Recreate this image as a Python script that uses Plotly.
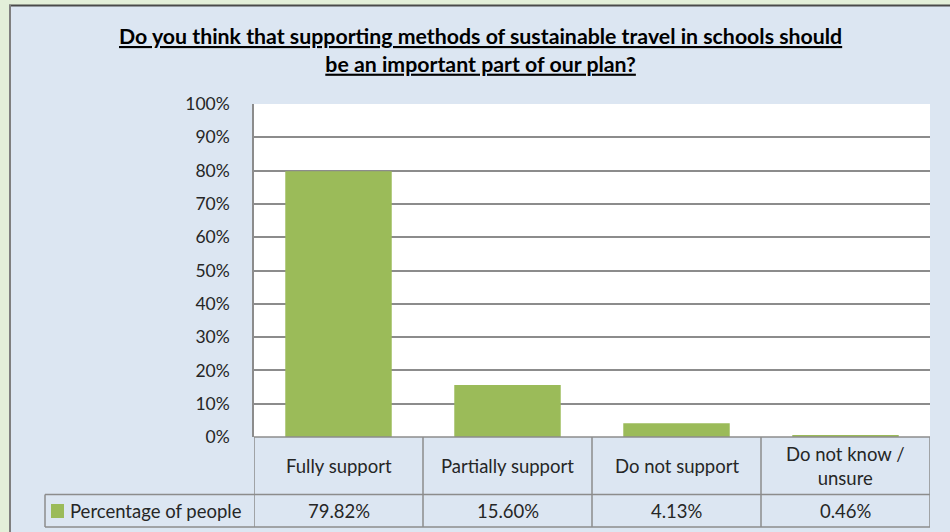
import plotly.graph_objects as go

# Survey results
categories = ["Fully support", "Partially support", "Do not support", "Do not know /<br>unsure"]
percentages = [79.82, 15.60, 4.13, 0.46]
series_name = "Percentage of people"
y_ticks = [0, 10, 20, 30, 40, 50, 60, 70, 80, 90, 100]
title_lines = [
    "Do you think that supporting methods of sustainable travel in schools should",
    "be an important part of our plan?",
]

W, H = 950, 532
L, R, T, B = 254, 20, 104, 95  # plot area: x 254..930, y 104..437
PW, PH = W - L - R, H - T - B

BAR = "#9BBB59"
GRID = "#8C8C8C"
CHART_BG = "#DCE6F2"
OUTER_BG = "#E3EFD9"
TEXT = "#262626"
FONT = "Lato"


def px_x(x):
    return (x - L) / PW


def px_y(y):
    return (H - B - y) / PH


fig = go.Figure(
    go.Bar(
        x=list(range(len(categories))),
        y=percentages,
        marker=dict(color=BAR, line=dict(width=0)),
        width=0.63,
        name=series_name,
        hoverinfo="skip",
    )
)

shapes = []
# outer sheet strips and chart frame
shapes.append(dict(type="rect", xref="paper", yref="paper", x0=px_x(-5), x1=px_x(10),
                   y0=px_y(H + 5), y1=px_y(-5), fillcolor=OUTER_BG, line=dict(width=0), layer="below"))
shapes.append(dict(type="rect", xref="paper", yref="paper", x0=px_x(-5), x1=px_x(W + 5),
                   y0=px_y(5), y1=px_y(-5), fillcolor=OUTER_BG, line=dict(width=0), layer="below"))
shapes.append(dict(type="line", xref="paper", yref="paper", x0=px_x(9), x1=px_x(W + 5),
                   y0=px_y(5.5), y1=px_y(5.5), line=dict(color="#4A4A4A", width=2)))
shapes.append(dict(type="line", xref="paper", yref="paper", x0=px_x(10), x1=px_x(10),
                   y0=px_y(5), y1=px_y(H + 5), line=dict(color="#7F7F7F", width=2)))

# data table grid below the category axis
row_mid = px_y(494.5)
table_bottom = px_y(527)
n = len(categories)
for i in range(n + 1):
    shapes.append(dict(type="line", xref="x", yref="paper", x0=i - 0.5, x1=i - 0.5,
                       y0=0, y1=table_bottom, line=dict(color=GRID, width=1.5)))
shapes.append(dict(type="line", xref="paper", yref="paper", x0=px_x(45), x1=1,
                   y0=row_mid, y1=row_mid, line=dict(color=GRID, width=1.5)))
shapes.append(dict(type="line", xref="paper", yref="paper", x0=px_x(45), x1=1,
                   y0=table_bottom, y1=table_bottom, line=dict(color=GRID, width=1.5)))
shapes.append(dict(type="line", xref="paper", yref="paper", x0=px_x(45), x1=px_x(45),
                   y0=row_mid, y1=table_bottom, line=dict(color=GRID, width=1.5)))
shapes.append(dict(type="line", xref="paper", yref="paper", x0=0, x1=1,
                   y0=0, y1=0, line=dict(color=GRID, width=1.5)))
# legend key
shapes.append(dict(type="rect", xref="paper", yref="paper", x0=px_x(51), x1=px_x(64),
                   y0=px_y(518), y1=px_y(504), fillcolor=BAR, line=dict(width=0)))

annotations = []
annotations.append(dict(
    xref="paper", yref="paper", x=px_x(480), y=px_y(50),
    text="<b><u>" + title_lines[0] + "</u></b><br><b><u>" + title_lines[1] + "</u></b>",
    showarrow=False, xanchor="center", yanchor="middle", align="center",
    font=dict(family=FONT, size=21.3, color="#000000"),
))
for i, (cat, val) in enumerate(zip(categories, percentages)):
    annotations.append(dict(xref="x", yref="paper", x=i, y=px_y(466), text=cat,
                            showarrow=False, xanchor="center", yanchor="middle", align="center",
                            font=dict(family=FONT, size=18.5, color=TEXT)))
    annotations.append(dict(xref="x", yref="paper", x=i, y=px_y(511), text=f"{val:.2f}%",
                            showarrow=False, xanchor="center", yanchor="middle",
                            font=dict(family=FONT, size=18.5, color=TEXT)))
annotations.append(dict(xref="paper", yref="paper", x=px_x(68), y=px_y(511), text=series_name,
                        showarrow=False, xanchor="left", yanchor="middle",
                        font=dict(family=FONT, size=18.5, color=TEXT)))

fig.update_layout(
    width=W, height=H,
    margin=dict(l=L, r=R, t=T, b=B, pad=0),
    paper_bgcolor=CHART_BG,
    plot_bgcolor="#FFFFFF",
    showlegend=False,
    bargap=0.37,
    shapes=shapes,
    annotations=annotations,
    xaxis=dict(range=[-0.5, n - 0.5], showticklabels=False, showgrid=False,
               zeroline=False, showline=False, ticks="", fixedrange=True),
    yaxis=dict(range=[0, 100], tickvals=y_ticks, ticktext=[f"{t}%" for t in y_ticks],
               showgrid=True, gridcolor=GRID, gridwidth=1.5, zeroline=False,
               showline=True, linecolor=GRID, linewidth=1.5, ticks="",
               ticklabelstandoff=19,
               tickfont=dict(family=FONT, size=17.5, color=TEXT), fixedrange=True),
)

fig.write_html("out.html")
